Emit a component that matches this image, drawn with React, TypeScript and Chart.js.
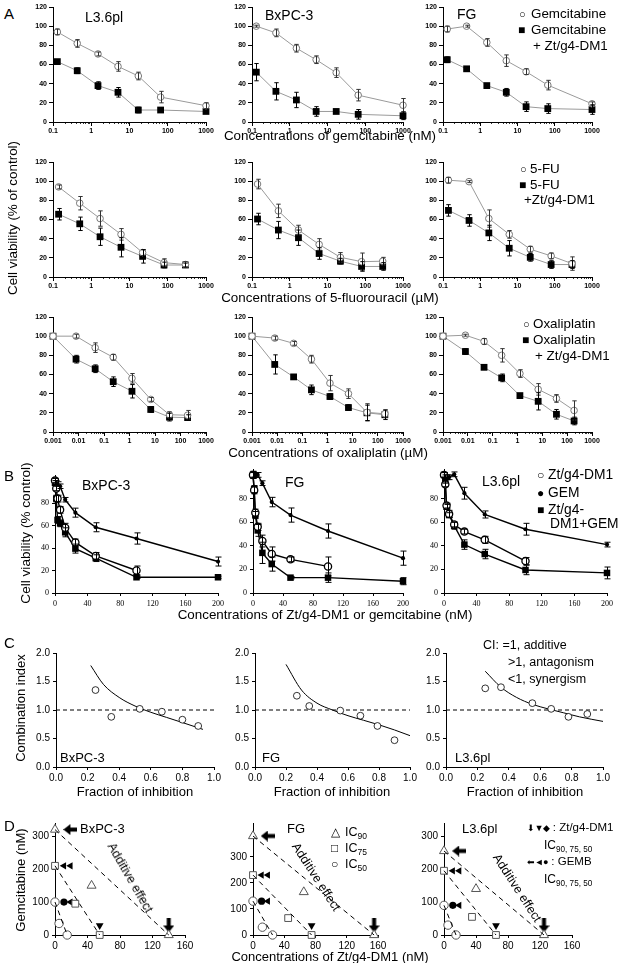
import React, { useEffect, useRef } from 'react';
import { Chart, registerables } from 'chart.js';

Chart.register(...registerables);

// ================= DATA =================
// Panel A – gemcitabine (nM)
const gemConc = [0.13, 0.43, 1.5, 5, 17, 65, 1000];
const gemTicks = [0.1, 1, 10, 100, 1000];
const gemL36 = [94, 82, 71, 58, 48, 26, 17];
const gemL36Err = [3, 4, 2, 5, 4, 6, 3];
const gemL36Combo = [63, 53.5, 38, 31, 12.5, 12.5, 11];
const gemL36ComboErr = [2, 3, 4, 5, 3, 1, 1];
const gemBx = [100, 93, 77, 65, 51.5, 28, 17.5];
const gemBxErr = [1, 4, 4, 4, 5, 6, 7];
const gemBxCombo = [52, 32, 23, 11, 11, 8, 6.5];
const gemBxComboErr = [9, 9, 8, 5, 1, 5, 4];
const gemFG = [97, 100, 83, 64, 52.5, 38.5, 19];
const gemFGErr = [3, 1, 4, 6, 3, 5, 2];
const gemFGCombo = [65, 55.5, 38, 31, 16, 14, 13];
const gemFGComboErr = [3, 1, 2, 4, 5, 5, 5];

// Panel A – 5-fluorouracil (µM)
const fuConc = [0.14, 0.5, 1.7, 6, 22, 80, 290];
const fuTicks = [0.1, 1, 10, 100, 1000];
const fuL36 = [94, 77, 61, 44.5, 25.5, 15, 13];
const fuL36Err = [2, 7, 8, 6, 3, 4, 3];
const fuL36Combo = [65.5, 55.5, 42, 31, 21.5, 12.5, 12.5];
const fuL36ComboErr = [6, 7, 9, 10, 7, 3, 2];
const fuBx = [97, 69, 49, 34, 20.5, 16, 16.5];
const fuBxErr = [5, 7, 5, 6, 5, 9, 4];
const fuBxCombo = [60.5, 49, 41, 24.5, 16.5, 11, 11];
const fuBxComboErr = [6, 9, 8, 6, 3, 5, 4];
const fuFG = [101, 99.5, 61, 44.5, 29, 22, 14];
const fuFGErr = [3, 1, 9, 4, 3, 3, 7];
const fuFGCombo = [69.5, 59, 46, 30, 20.5, 13, 13];
const fuFGComboErr = [6, 6, 8, 8, 4, 4, 4];

// Panel A – oxaliplatin (µM)
const oxConc = [0.001, 0.008, 0.045, 0.23, 1.25, 6.8, 37, 190];
const oxTicks = [0.001, 0.01, 0.1, 1, 10, 100, 1000];
const oxL36 = [100, 100, 88, 78, 56, 34, 18, 17.5];
const oxL36Err = [0, 2, 5, 3, 5, 2, 3, 5];
const oxL36Combo = [100, 76, 66, 52.5, 42.5, 23.5, 15.5, 15];
const oxL36ComboErr = [0, 4, 4, 5, 7, 3, 4, 3];
const oxBx = [100, 98, 92.5, 76, 51, 40, 20.5, 19];
const oxBxErr = [0, 2, 2, 4, 8, 5, 9, 4];
const oxBxCombo = [100, 70.5, 57.5, 44, 37, 25.5, 20, 18];
const oxBxComboErr = [0, 10, 2, 5, 3, 3, 8, 5];
const oxFG = [100, 101, 94.5, 80, 61, 44.5, 35, 22.5];
const oxFGErr = [0, 1, 3, 7, 4, 6, 4, 10];
const oxFGCombo = [100, 84, 67.5, 56.5, 38, 32, 18.5, 11.5];
const oxFGComboErr = [0, 3, 2, 4, 2, 9, 5, 4];

// Panel B – Zt/g4-DM1, GEM, combination (nM)
const bConc = [0, 1.56, 3.125, 6.25, 12.5, 25, 50, 100, 200];
const bxZt = [100, 93, 84, 74, 58, 45, 33, 20];
const bxZtErr = [2, 2, 3, 3, 4, 3, 3, 4];
const bxGem = [100, 98, 97, 95, 83, 71.5, 58.5, 48.5, 28];
const bxGemErr = [2, 2, 2, 2, 2, 4, 4, 5, 4];
const bxCombo = [98, 84, 65, 62, 54, 39.5, 31, 14, 14];
const bxComboErr = [2, 3, 3, 3, 4, 4, 3, 1, 1];
const fgZt = [100, 87, 68, 56, 44, 33, 28.5, 22.5];
const fgZtErr = [3, 3, 3, 3, 5, 6, 2, 8];
const fgGem = [100, 100, 100, 100, 93, 77, 66, 52.5, 29.5];
const fgGemErr = [3, 2, 2, 2, 2, 4, 6, 6, 6];
const fgCombo = [100, 88, 66, 53, 34, 24.5, 13, 13, 10];
const fgComboErr = [2, 3, 3, 5, 9, 6, 1, 4, 3];
const l36Zt = [100, 92, 74, 67, 58, 52, 45, 27];
const l36ZtErr = [2, 2, 2, 3, 2, 2, 3, 3];
const l36Gem = [100, 98, 98, 98, 100.5, 84.5, 66.5, 54, 41];
const l36GemErr = [2, 2, 2, 2, 2, 5, 3, 5, 2];
const l36Combo = [100, 95, 73, 66, 57, 41, 33, 19.5, 17];
const l36ComboErr = [2, 2, 2, 2, 3, 4, 4, 4, 5];

// Panel C – combination index vs fraction of inhibition
const ciRefFa = [0, 1];
const ciRefCi = [1, 1];
const cBxFa = [0.25, 0.35, 0.53, 0.67, 0.8, 0.9];
const cBxCi = [1.35, 0.88, 1.02, 0.97, 0.83, 0.72];
const cBxCurveFa = [0.22, 0.3, 0.4, 0.5, 0.6, 0.7, 0.8, 0.93];
const cBxCurveCi = [1.78, 1.45, 1.22, 1.07, 0.96, 0.87, 0.78, 0.66];
const cFgFa = [0.27, 0.35, 0.55, 0.68, 0.79, 0.9];
const cFgCi = [1.25, 1.07, 0.99, 0.9, 0.72, 0.47];
const cFgCurveFa = [0.2, 0.3, 0.4, 0.5, 0.6, 0.7, 0.8, 0.9, 1.0];
const cFgCurveCi = [1.8, 1.35, 1.12, 1.0, 0.9, 0.82, 0.74, 0.65, 0.55];
const cL36Fa = [0.25, 0.35, 0.55, 0.67, 0.78, 0.9];
const cL36Ci = [1.38, 1.4, 1.12, 1.02, 0.88, 0.93];
const cL36CurveFa = [0.25, 0.35, 0.45, 0.55, 0.65, 0.75, 0.85, 1.0];
const cL36CurveCi = [1.68, 1.4, 1.22, 1.1, 1.02, 0.95, 0.88, 0.8];

// Panel D – isobolograms (IC90, IC75, IC50)
const dBxGemIC = [320, 210, 100];
const dBxZtIC = [140, 55, 15];
const dBxComboZt = [45, 25, 5];
const dBxComboGem = [150, 95, 35];
const dFgGemIC = [380, 230, 130];
const dFgZtIC = [155, 75, 25];
const dFgComboZt = [65, 45, 12];
const dFgComboGem = [165, 65, 30];
const dL36GemIC = [255, 195, 90];
const dL36ZtIC = [125, 65, 15];
const dL36ComboZt = [40, 35, 5];
const dL36ComboGem = [140, 55, 30];

// ================= PLUGINS =================
const errorBarPlugin = {
  id: 'errorBars',
  afterDatasetsDraw(chart: any) {
    const ctx = chart.ctx;
    chart.data.datasets.forEach((ds: any, i: number) => {
      if (!ds.errors) return;
      const meta = chart.getDatasetMeta(i);
      const ys = chart.scales[meta.yAxisID];
      ctx.save();
      ctx.strokeStyle = ds.errColor || '#000';
      ctx.lineWidth = ds.errWidth || 1;
      meta.data.forEach((pt: any, j: number) => {
        const e = ds.errors[j];
        if (!e) return;
        const v = ds.data[j].y;
        const y1 = ys.getPixelForValue(v + e);
        const y2 = ys.getPixelForValue(v - e);
        const x = Math.round(pt.x) + 0.5;
        const cw = ds.capW || 2.5;
        ctx.beginPath();
        ctx.moveTo(x, y1);
        ctx.lineTo(x, y2);
        ctx.moveTo(x - cw, y1);
        ctx.lineTo(x + cw, y1);
        ctx.moveTo(x - cw, y2);
        ctx.lineTo(x + cw, y2);
        ctx.stroke();
      });
      ctx.restore();
    });
  },
};

const minorTickPlugin = {
  id: 'minorTicks',
  afterDraw(chart: any, _a: any, opts: any) {
    if (!opts || !opts.values) return;
    const sx = chart.scales.x;
    const yb = chart.chartArea.bottom;
    const ctx = chart.ctx;
    ctx.save();
    ctx.strokeStyle = '#000';
    ctx.lineWidth = 0.8;
    opts.values.forEach((v: number) => {
      const x = Math.round(sx.getPixelForValue(v)) + 0.5;
      ctx.beginPath();
      ctx.moveTo(x, yb);
      ctx.lineTo(x, yb + opts.len);
      ctx.stroke();
    });
    ctx.restore();
  },
};

Chart.register(errorBarPlugin as any, minorTickPlugin as any);

const SANS = '"Liberation Sans", Arial, Helvetica, sans-serif';
const SERIF = '"Liberation Serif", "Times New Roman", serif';

function pts(xs: number[], ys: number[]) {
  return ys.map((y, i) => ({ x: xs[i], y }));
}

function mkScale(font: any, tickLen: number, opts: any, tickOpts: any) {
  return {
    ...opts,
    grid: { display: true, drawOnChartArea: false, drawTicks: true, tickLength: tickLen, color: '#000', lineWidth: 1 },
    border: { display: true, color: '#000', width: 1 },
    ticks: { color: '#000', font, padding: 2, autoSkip: false, maxRotation: 0, minRotation: 0, ...tickOpts },
  };
}

function arrowCanvas() {
  const c = document.createElement('canvas');
  c.width = 11;
  c.height = 14;
  const g = c.getContext('2d')!;
  g.fillStyle = '#000';
  g.beginPath();
  g.moveTo(3.5, 0);
  g.lineTo(7.5, 0);
  g.lineTo(7.5, 7);
  g.lineTo(11, 7);
  g.lineTo(5.5, 14);
  g.lineTo(0, 7);
  g.lineTo(3.5, 7);
  g.closePath();
  g.fill();
  return c;
}

// ---------- configs ----------
function doseCfg(conc: number[], majors: number[], open: number[], openErr: number[], filled: number[], filledErr: number[]) {
  const font = { family: SANS, size: 7, weight: 'bold' };
  const minors: number[] = [];
  for (let i = 0; i < majors.length - 1; i++) for (let m = 2; m <= 9; m++) minors.push(majors[i] * m);
  return {
    type: 'line',
    data: {
      datasets: [
        { data: pts(conc, open), errors: openErr, errColor: '#333', capW: 2.2, borderColor: '#9a9a9a', borderWidth: 1, pointStyle: 'circle', pointRadius: 3.3, pointBackgroundColor: '#fff', pointBorderColor: '#7a7a7a', pointBorderWidth: 1, clip: false },
        { data: pts(conc, filled), errors: filledErr, errColor: '#000', capW: 2.2, borderColor: '#9a9a9a', borderWidth: 1, pointStyle: 'rect', pointRadius: 4.8, pointBackgroundColor: '#000', pointBorderColor: '#000', pointBorderWidth: 0, clip: false },
      ],
    },
    options: {
      plugins: { minorTicks: { values: minors, len: 2 } },
      scales: {
        x: mkScale(font, 4, {
          type: 'logarithmic', min: majors[0], max: majors[majors.length - 1],
          afterBuildTicks: (s: any) => { s.ticks = majors.map((v) => ({ value: v })); },
        }, { padding: 1, callback: (_v: any, i: number) => String(majors[i]) }),
        y: mkScale(font, 4, { type: 'linear', min: 0, max: 120 }, { stepSize: 20, padding: 2 }),
      },
    },
  };
}

function combCfg(zt: number[], ztErr: number[], gem: number[], gemErr: number[], combo: number[], comboErr: number[]) {
  const font = { family: SERIF, size: 8 };
  const common = { borderColor: '#000', borderWidth: 1.4, errColor: '#000', capW: 3, clip: false };
  return {
    type: 'line',
    data: {
      datasets: [
        { ...common, data: pts(bConc, zt), errors: ztErr, pointStyle: 'circle', pointRadius: 3.6, pointBackgroundColor: '#fff', pointBorderColor: '#000', pointBorderWidth: 1.3 },
        { ...common, data: pts(bConc, gem), errors: gemErr, pointStyle: 'circle', pointRadius: 2.1, pointBackgroundColor: '#000', pointBorderColor: '#000', pointBorderWidth: 0 },
        { ...common, data: pts(bConc, combo), errors: comboErr, pointStyle: 'rect', pointRadius: 4.6, pointBackgroundColor: '#000', pointBorderColor: '#000', pointBorderWidth: 0 },
      ],
    },
    options: {
      scales: {
        x: mkScale(font, 3, { type: 'linear', min: 0, max: 200 }, { stepSize: 40, padding: 3 }),
        y: mkScale(font, 3, {
          type: 'linear', min: 0, max: 105,
          afterBuildTicks: (s: any) => { s.ticks = s.ticks.filter((t: any) => t.value % 20 === 0); },
        }, { stepSize: 20, padding: 3 }),
      },
    },
  };
}

function ciCfg(fa: number[], ci: number[], cFa: number[], cCi: number[]) {
  const font = { family: SANS, size: 10 };
  return {
    type: 'line',
    data: {
      datasets: [
        { data: pts(fa, ci), showLine: false, pointStyle: 'circle', pointRadius: 3.4, pointBackgroundColor: '#fff', pointBorderColor: '#000', pointBorderWidth: 0.8, clip: false },
        { data: pts(cFa, cCi), borderColor: '#000', borderWidth: 1, pointRadius: 0, cubicInterpolationMode: 'monotone', clip: false },
        { data: pts(ciRefFa, ciRefCi), borderColor: '#000', borderWidth: 1, borderDash: [4, 3], pointRadius: 0, clip: false },
      ],
    },
    options: {
      scales: {
        x: mkScale(font, 3, { type: 'linear', min: 0, max: 1 }, { stepSize: 0.2, padding: 2, callback: (v: any) => Number(v).toFixed(1) }),
        y: mkScale(font, 3, { type: 'linear', min: 0, max: 2 }, { stepSize: 0.5, padding: 3, callback: (v: any) => Number(v).toFixed(1) }),
      },
    },
  };
}

function isoCfg(gemIC: number[], ztIC: number[], comboZt: number[], comboGem: number[], ymax: number) {
  const font = { family: SANS, size: 10 };
  const arrow = arrowCanvas();
  const shapes = ['triangle', 'rect', 'circle'];
  const radii = [5.2, 4.8, 4.2];
  const ds: any[] = [];
  for (let k = 0; k < 3; k++) {
    ds.push({ data: pts([0, ztIC[k]], [gemIC[k], 0]), borderColor: '#000', borderWidth: 1, borderDash: [5, 4], pointRadius: 0, clip: false });
  }
  for (let k = 0; k < 3; k++) {
    ds.push({
      data: pts([0, ztIC[k], comboZt[k]], [gemIC[k], 0, comboGem[k]]), showLine: false,
      pointStyle: shapes[k], pointRadius: radii[k], pointBackgroundColor: '#fff', pointBorderColor: '#555', pointBorderWidth: 1, clip: false,
    });
  }
  const up = ymax * 0.085;
  const dn = -ymax * 0.095;
  const blk = { showLine: false, pointBackgroundColor: '#000', pointBorderColor: '#000', pointBorderWidth: 0, clip: false };
  // GEM alone markers (along y axis)
  ds.push({ ...blk, data: pts([19], [gemIC[0]]), pointStyle: arrow, pointRotation: 90, pointRadius: 6 });
  ds.push({ ...blk, data: pts([11, 19, 19], [gemIC[1], gemIC[1], gemIC[2]]), pointStyle: 'triangle', pointRotation: -90, pointRadius: 4.2 });
  ds.push({ ...blk, data: pts([11], [gemIC[2]]), pointStyle: 'circle', pointRadius: 3.6 });
  // Zt/g4-DM1 alone markers (along x axis)
  ds.push({ ...blk, data: pts([ztIC[0]], [up]), pointStyle: arrow, pointRadius: 6 });
  ds.push({ ...blk, data: pts([ztIC[1]], [up]), pointStyle: 'triangle', pointRotation: 180, pointRadius: 4.5 });
  ds.push({ ...blk, data: pts([ztIC[2]], [dn]), pointStyle: 'rectRot', pointRadius: 4.3 });
  const ystep = 100;
  return {
    type: 'line',
    data: { datasets: ds },
    options: {
      scales: {
        x: mkScale(font, 3, { type: 'linear', min: 0, max: 160 }, { stepSize: 40, padding: 2 }),
        y: mkScale(font, 3, {
          type: 'linear', min: 0, max: ymax,
          afterBuildTicks: (s: any) => { s.ticks = s.ticks.filter((t: any) => t.value % ystep === 0); },
        }, { stepSize: ystep, padding: 3 }),
      },
    },
  };
}

// ---------- layout ----------
const M = { l: 34, r: 16, t: 9, b: 24 };

function ChartPanel({ area, make }: { area: { x0: number; x1: number; y0: number; y1: number }; make: () => any }) {
  const ref = useRef<HTMLCanvasElement>(null);
  const w = area.x1 - area.x0 + M.l + M.r;
  const h = area.y1 - area.y0 + M.t + M.b;
  useEffect(() => {
    const cfg = make();
    cfg.options.responsive = false;
    cfg.options.maintainAspectRatio = false;
    cfg.options.animation = false;
    cfg.options.devicePixelRatio = 1;
    cfg.options.events = [];
    cfg.options.layout = { padding: { top: M.t, right: M.r, left: 0, bottom: 0 }, autoPadding: false };
    cfg.options.plugins = { ...(cfg.options.plugins || {}), legend: { display: false }, tooltip: { enabled: false }, title: { display: false } };
    cfg.options.scales.x.afterFit = (s: any) => { s.height = M.b; };
    cfg.options.scales.y.afterFit = (s: any) => { s.width = M.l; };
    const chart = new Chart(ref.current as HTMLCanvasElement, cfg);
    return () => chart.destroy();
  }, []);
  return (
    <canvas ref={ref} width={w} height={h}
      style={{ position: 'absolute', left: area.x0 - M.l, top: area.y0 - M.t, width: w, height: h }} />
  );
}

function T(p: { x: number; y: number; s?: number; m?: boolean; rot?: number; children: any; style?: any }) {
  const tr = p.rot !== undefined ? `translate(-50%,-50%) rotate(${p.rot}deg)` : `translate(${p.m ? '-50%' : '0'},-50%)`;
  return (
    <div style={{ position: 'absolute', left: p.x, top: p.y, fontSize: p.s ?? 13.4, lineHeight: 1, whiteSpace: 'nowrap', transform: tr, ...(p.style || {}) }}>
      {p.children}
    </div>
  );
}

const Sub = ({ children }: { children: any }) => (
  <span style={{ fontSize: '0.68em', position: 'relative', top: '0.35em' }}>{children}</span>
);

const Sym = ({ children }: { children: any }) => (
  <span style={{ fontSize: '0.8em', letterSpacing: '-0.5px' }}>{children}</span>
);

const A_COLS = [[53, 206], [252, 403], [443, 592]];
const A_ROWS = [[7, 122], [162, 277], [317, 432]];
const B_AREAS = [{ x0: 55, x1: 218, y0: 475, y1: 593 }, { x0: 253, x1: 403, y0: 469, y1: 593 }, { x0: 444, x1: 607, y0: 469, y1: 593 }];
const C_AREAS = [{ x0: 56, x1: 214, y0: 653, y1: 767 }, { x0: 255, x1: 410, y0: 653, y1: 767 }, { x0: 446, x1: 603, y0: 653, y1: 767 }];
const D_AREAS = [{ x0: 55, x1: 185, y0: 823, y1: 935 }, { x0: 253, x1: 378, y0: 823, y1: 935 }, { x0: 444, x1: 572, y0: 823, y1: 935 }];

const aArea = (r: number, c: number) => ({ x0: A_COLS[c][0], x1: A_COLS[c][1], y0: A_ROWS[r][0], y1: A_ROWS[r][1] });

export default function App() {
  const panels: { area: any; make: () => any }[] = [
    { area: aArea(0, 0), make: () => doseCfg(gemConc, gemTicks, gemL36, gemL36Err, gemL36Combo, gemL36ComboErr) },
    { area: aArea(0, 1), make: () => doseCfg(gemConc, gemTicks, gemBx, gemBxErr, gemBxCombo, gemBxComboErr) },
    { area: aArea(0, 2), make: () => doseCfg(gemConc, gemTicks, gemFG, gemFGErr, gemFGCombo, gemFGComboErr) },
    { area: aArea(1, 0), make: () => doseCfg(fuConc, fuTicks, fuL36, fuL36Err, fuL36Combo, fuL36ComboErr) },
    { area: aArea(1, 1), make: () => doseCfg(fuConc, fuTicks, fuBx, fuBxErr, fuBxCombo, fuBxComboErr) },
    { area: aArea(1, 2), make: () => doseCfg(fuConc, fuTicks, fuFG, fuFGErr, fuFGCombo, fuFGComboErr) },
    { area: aArea(2, 0), make: () => doseCfg(oxConc, oxTicks, oxL36, oxL36Err, oxL36Combo, oxL36ComboErr) },
    { area: aArea(2, 1), make: () => doseCfg(oxConc, oxTicks, oxBx, oxBxErr, oxBxCombo, oxBxComboErr) },
    { area: aArea(2, 2), make: () => doseCfg(oxConc, oxTicks, oxFG, oxFGErr, oxFGCombo, oxFGComboErr) },
    { area: B_AREAS[0], make: () => combCfg(bxZt, bxZtErr, bxGem, bxGemErr, bxCombo, bxComboErr) },
    { area: B_AREAS[1], make: () => combCfg(fgZt, fgZtErr, fgGem, fgGemErr, fgCombo, fgComboErr) },
    { area: B_AREAS[2], make: () => combCfg(l36Zt, l36ZtErr, l36Gem, l36GemErr, l36Combo, l36ComboErr) },
    { area: C_AREAS[0], make: () => ciCfg(cBxFa, cBxCi, cBxCurveFa, cBxCurveCi) },
    { area: C_AREAS[1], make: () => ciCfg(cFgFa, cFgCi, cFgCurveFa, cFgCurveCi) },
    { area: C_AREAS[2], make: () => ciCfg(cL36Fa, cL36Ci, cL36CurveFa, cL36CurveCi) },
    { area: D_AREAS[0], make: () => isoCfg(dBxGemIC, dBxZtIC, dBxComboZt, dBxComboGem, 340) },
    { area: D_AREAS[1], make: () => isoCfg(dFgGemIC, dFgZtIC, dFgComboZt, dFgComboGem, 430) },
    { area: D_AREAS[2], make: () => isoCfg(dL36GemIC, dL36ZtIC, dL36ComboZt, dL36ComboGem, 340) },
  ];

  return (
    <div style={{ position: 'absolute', left: 0, top: 0, width: 623, height: 963, background: '#fff', fontFamily: SANS, color: '#000', overflow: 'hidden' }}>
      {panels.map((p, i) => <ChartPanel key={i} area={p.area} make={p.make} />)}

      {/* ----- A ----- */}
      <T x={4} y={13} s={15}>A</T>
      <T x={85} y={17} s={14}>L3.6pl</T>
      <T x={265} y={15} s={14}>BxPC-3</T>
      <T x={457} y={14} s={14}>FG</T>
      <T x={519} y={14} s={11}>○</T>
      <T x={531} y={14}>Gemcitabine</T>
      <T x={518} y={30} s={12}>■</T>
      <T x={531} y={30}>Gemcitabine</T>
      <T x={533} y={46}>+ Zt/g4-DM1</T>
      <T x={330} y={136} m>Concentrations of gemcitabine (nM)</T>

      <T x={520} y={169} s={11}>○</T>
      <T x={530} y={169}>5-FU</T>
      <T x={519} y={185} s={12}>■</T>
      <T x={530} y={185}>5-FU</T>
      <T x={524} y={200}>+Zt/g4-DM1</T>
      <T x={13} y={218} rot={-90} s={13.4}>Cell viability (% of control)</T>
      <T x={330} y={298} m>Concentrations of 5-fluorouracil (µM)</T>

      <T x={523} y={324} s={11}>○</T>
      <T x={533} y={324}>Oxaliplatin</T>
      <T x={522} y={340} s={12}>■</T>
      <T x={533} y={340}>Oxaliplatin</T>
      <T x={535} y={356}>+ Zt/g4-DM1</T>
      <T x={328} y={453} m>Concentrations of oxaliplatin (µM)</T>

      {/* ----- B ----- */}
      <T x={4} y={475} s={15}>B</T>
      <T x={26} y={533} rot={-90} s={13.6}>Cell viability (% control)</T>
      <T x={82} y={485} s={14}>BxPC-3</T>
      <T x={285} y={482} s={14}>FG</T>
      <T x={482} y={481} s={14}>L3.6pl</T>
      <T x={537} y={475} s={12}>○</T>
      <T x={548} y={475} s={13.8}>Zt/g4-DM1</T>
      <T x={537} y={493} s={12}>●</T>
      <T x={548} y={493} s={13.8}>GEM</T>
      <T x={537} y={510} s={12}>■</T>
      <T x={548} y={510} s={13.8}>Zt/g4-</T>
      <T x={550} y={524} s={13.8}>DM1+GEM</T>
      <T x={325} y={615} m>Concentrations of Zt/g4-DM1 or gemcitabine (nM)</T>

      {/* ----- C ----- */}
      <T x={4} y={642} s={15}>C</T>
      <T x={20} y={708} rot={-90} s={13}>Combination index</T>
      <T x={60} y={757} s={13}>BxPC-3</T>
      <T x={262} y={757} s={13}>FG</T>
      <T x={455} y={757} s={13}>L3.6pl</T>
      <T x={483} y={645} s={12.5}>CI: =1, additive</T>
      <T x={508} y={662} s={12.5}>&gt;1, antagonism</T>
      <T x={508} y={679} s={12.5}>&lt;1, synergism</T>
      <T x={135} y={791} m s={13}>Fraction of inhibition</T>
      <T x={332} y={791} m s={13}>Fraction of inhibition</T>
      <T x={525} y={791} m s={13}>Fraction of inhibition</T>

      {/* ----- D ----- */}
      <T x={4} y={825} s={15}>D</T>
      <T x={20} y={880} rot={-90} s={13}>Gemcitabine (nM)</T>
      <T x={80} y={828} s={13}>BxPC-3</T>
      <T x={287} y={828} s={13}>FG</T>
      <T x={462} y={828} s={13}>L3.6pl</T>
      <T x={130} y={878} rot={60} s={12.5}>Additive effect</T>
      <T x={316} y={877} rot={57} s={12.5}>Additive effect</T>
      <T x={517} y={888} rot={57} s={12.5}>Additive effect</T>
      <T x={331} y={832} s={12}>△</T>
      <T x={345} y={832} s={12.5}>IC<Sub>90</Sub></T>
      <T x={331} y={848} s={12}>□</T>
      <T x={345} y={848} s={12.5}>IC<Sub>75</Sub></T>
      <T x={331} y={864} s={12}>○</T>
      <T x={345} y={864} s={12.5}>IC<Sub>50</Sub></T>
      <T x={527} y={828} s={11.5}><Sym>⬇▼◆</Sym> : Zt/g4-DM1</T>
      <T x={544} y={845} s={12}>IC<Sub>90, 75, 50</Sub></T>
      <T x={527} y={862} s={11.5}><Sym>⬅◄●</Sym> : GEMB</T>
      <T x={544} y={879} s={12}>IC<Sub>90, 75, 50</Sub></T>
      <T x={330} y={956} m s={13}>Concentrations of Zt/g4-DM1 (nM)</T>
    </div>
  );
}
